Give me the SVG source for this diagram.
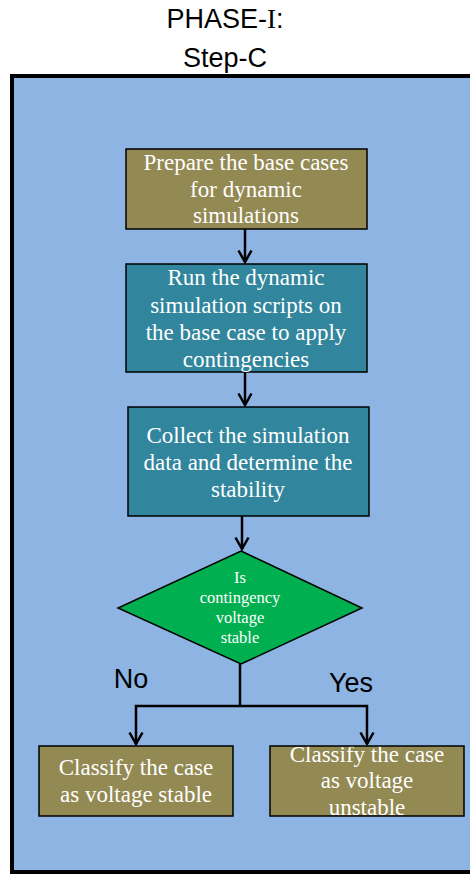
<svg xmlns="http://www.w3.org/2000/svg" width="470" height="874" viewBox="0 0 470 874">
<style>
.t{font-family:"Liberation Serif","Times New Roman",serif;fill:#fff;text-anchor:middle}
.b{font-size:23px}
.d{font-size:16.5px}
.s{font-family:"Liberation Sans",Arial,sans-serif;fill:#000;font-size:27px;text-anchor:middle}
.box{stroke:#000;stroke-width:1.5}
.ol{fill:#938953}
.tl{fill:#31859C}
.c{stroke:#000;stroke-width:2.5;fill:none}
</style>
<defs>
<marker id="ah" viewBox="0 0 16 16" refX="14.5" refY="8" markerWidth="16" markerHeight="16" markerUnits="userSpaceOnUse" orient="auto-start-reverse">
<path d="M3 1.5 L14.5 8 L3 14.5" fill="none" stroke="#000" stroke-width="2.5"/>
</marker>
</defs>
<text class="s" x="225" y="28">PHASE-<tspan font-family="Liberation Serif,serif">I</tspan>:</text>
<text class="s" x="225" y="67">Step-C</text>
<rect id="frame" x="12" y="76" width="470" height="796" fill="#8EB4E3" stroke="#000" stroke-width="4"/>
<g id="connectors">
<line class="c" x1="245" y1="229" x2="245" y2="262" marker-end="url(#ah)"/>
<line class="c" x1="245" y1="372" x2="245" y2="405" marker-end="url(#ah)"/>
<line class="c" x1="242" y1="516" x2="242" y2="549" marker-end="url(#ah)"/>
<polyline class="c" points="240,664 240,706"/>
<polyline class="c" points="136,744 136,706 367,706 367,744" marker-start="url(#ah)" marker-end="url(#ah)"/>
</g>
<g id="n1">
<rect class="box ol" x="126" y="149" width="241" height="80"/>
<text class="t b" x="246" y="170">Prepare the base cases</text>
<text class="t b" x="246" y="197">for dynamic</text>
<text class="t b" x="246" y="223">simulations</text>
</g>
<g id="n2">
<rect class="box tl" x="126" y="264" width="241" height="108"/>
<text class="t b" x="246" y="285">Run the dynamic</text>
<text class="t b" x="246" y="313">simulation scripts on</text>
<text class="t b" x="246" y="340">the base case to apply</text>
<text class="t b" x="246" y="367">contingencies</text>
</g>
<g id="n3">
<rect class="box tl" x="128" y="407" width="241" height="109"/>
<text class="t b" x="248" y="443">Collect the simulation</text>
<text class="t b" x="248" y="470">data and determine the</text>
<text class="t b" x="248" y="497">stability</text>
</g>
<g id="n4">
<polygon class="box" fill="#00B050" points="241,551 362,608 241,664 118,608"/>
<text class="t d" x="240" y="583">Is</text>
<text class="t d" x="240" y="603">contingency</text>
<text class="t d" x="240" y="623">voltage</text>
<text class="t d" x="240" y="643">stable</text>
</g>
<text class="s" x="131" y="688">No</text>
<text class="s" x="351" y="692">Yes</text>
<g id="n5">
<rect class="box ol" x="39" y="746" width="194" height="70"/>
<text class="t b" x="136" y="775">Classify the case</text>
<text class="t b" x="136" y="802">as voltage stable</text>
</g>
<g id="n6">
<rect class="ol" x="270" y="746" width="194" height="70"/>
<text class="t b" x="367" y="762">Classify the case</text>
<text class="t b" x="367" y="788">as voltage</text>
<text class="t b" x="367" y="815">unstable</text>
<rect x="270" y="746" width="194" height="70" fill="none" stroke="#000" stroke-width="1.5"/>
</g>
</svg>
